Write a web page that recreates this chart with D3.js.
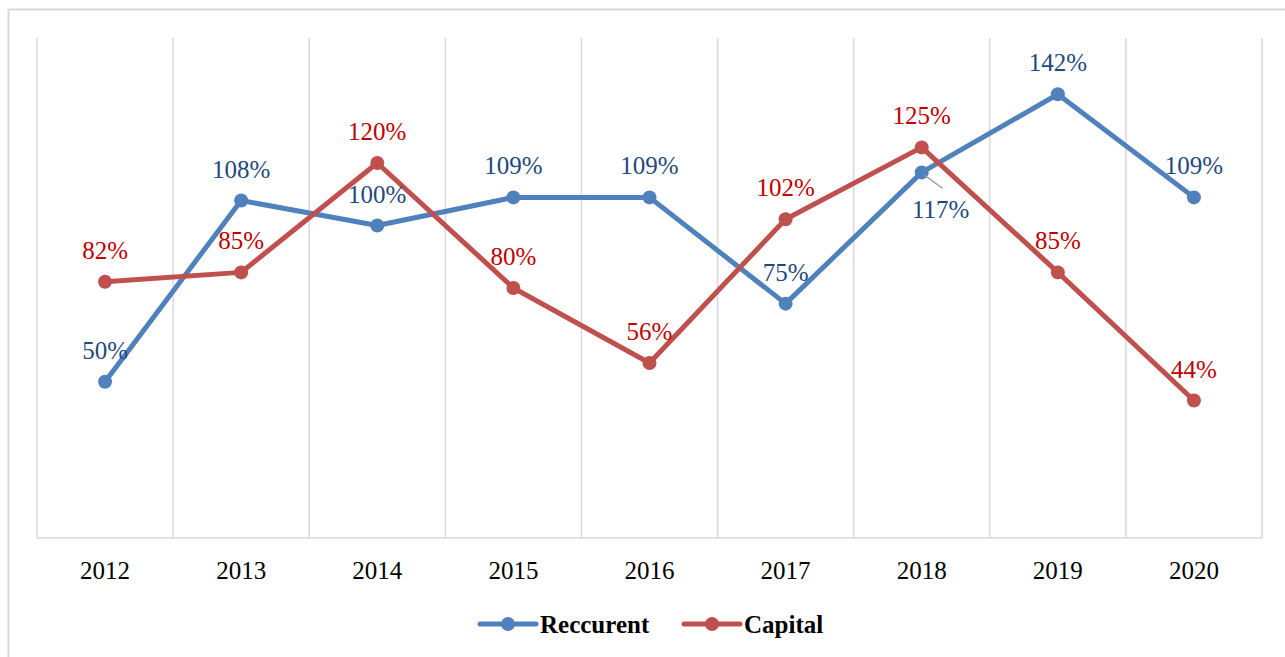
<!DOCTYPE html>
<html lang="en">
<head>
  <meta charset="UTF-8">
  <title>Reccurent vs Capital</title>
  <script src="https://d3js.org/d3.v7.min.js"></script>
  <style>
    body, html {
      margin: 0;
      padding: 0;
      background: #fff;
    }
    svg { display: block; }
    .grid line { stroke: #d9d9d9; stroke-width: 1.5px; }
    .tick-label { font-family: "Liberation Serif", "Times New Roman", serif; font-size: 25px; fill: #000; }
    .data-label { font-family: "Liberation Serif", "Times New Roman", serif; font-size: 25px; }
    .legend-text { font-family: "Liberation Serif", "Times New Roman", serif; font-size: 25px; font-weight: bold; fill: #000; }
  </style>
</head>
<body>
  <svg id="chart" width="1285" height="657"></svg>

  <script>
    // data
    const years = ["2012", "2013", "2014", "2015", "2016", "2017", "2018", "2019", "2020"];
    const reccurent = [50, 108, 100, 109, 109, 75, 117, 142, 109];
    const capital = [82, 85, 120, 80, 56, 102, 125, 85, 44];

    const series = [
      { name: "Reccurent", values: reccurent, color: "#4f81bd", labelColor: "#1f497d" },
      { name: "Capital", values: capital, color: "#c0504d", labelColor: "#c00000" }
    ];

    const svg = d3.select("#chart");
    const margin = { left: 37, right: 1262, top: 38, bottom: 538 };

    // outer frame (runs off the right/bottom edges like the original)
    svg.append("rect")
      .attr("x", 8.5).attr("y", 9.5)
      .attr("width", 1300).attr("height", 700)
      .attr("fill", "none")
      .attr("stroke", "#d9d9d9")
      .attr("stroke-width", 2);

    const x = d3.scaleBand()
      .domain(years)
      .range([margin.left, margin.right]);

    const y = d3.scaleLinear()
      .domain([0, 160])
      .range([margin.bottom, margin.top]);

    // vertical gridlines on category boundaries
    const bounds = years.map(d => x(d)).concat([margin.right]);
    const grid = svg.append("g").attr("class", "grid");
    grid.selectAll("line.v")
      .data(bounds)
      .enter().append("line")
      .attr("x1", d => d).attr("x2", d => d)
      .attr("y1", margin.top).attr("y2", margin.bottom);
    grid.append("line")
      .attr("x1", margin.left).attr("x2", margin.right)
      .attr("y1", margin.bottom).attr("y2", margin.bottom);

    // x tick labels
    svg.selectAll(".tick-label")
      .data(years)
      .enter().append("text")
      .attr("class", "tick-label")
      .attr("text-anchor", "middle")
      .attr("x", d => x(d) + x.bandwidth() / 2)
      .attr("y", 579)
      .text(d => d);

    const cx = (d, i) => x(years[i]) + x.bandwidth() / 2;
    const line = d3.line()
      .x((d, i) => cx(d, i))
      .y(d => y(d));

    series.forEach(s => {
      const g = svg.append("g");
      g.append("path")
        .datum(s.values)
        .attr("fill", "none")
        .attr("stroke", s.color)
        .attr("stroke-width", 5)
        .attr("stroke-linejoin", "round")
        .attr("d", line);
      g.selectAll("circle")
        .data(s.values)
        .enter().append("circle")
        .attr("cx", cx)
        .attr("cy", d => y(d))
        .attr("r", 7)
        .attr("fill", s.color);
    });

    // data labels (drawn after lines so they sit on top)
    series.forEach(s => {
      s.values.forEach((v, i) => {
        let lx = cx(v, i), ly = y(v) - 23;
        // 2018 reccurent label was pushed below-right with a leader line
        if (s.name === "Reccurent" && years[i] === "2018") {
          lx = cx(v, i) + 19;
          ly = y(v) + 46;
          svg.append("line")
            .attr("x1", cx(v, i) + 3).attr("y1", y(v) + 3)
            .attr("x2", cx(v, i) + 21).attr("y2", y(v) + 16)
            .attr("stroke", "#a6a6a6")
            .attr("stroke-width", 1.5);
        }
        svg.append("text")
          .attr("class", "data-label")
          .attr("text-anchor", "middle")
          .attr("x", lx)
          .attr("y", ly)
          .attr("fill", s.labelColor)
          .text(v + "%");
      });
    });

    // legend
    const legend = svg.append("g");
    const legendItems = [
      { s: series[0], x0: 480 },
      { s: series[1], x0: 684 }
    ];
    legendItems.forEach(it => {
      legend.append("line")
        .attr("x1", it.x0).attr("x2", it.x0 + 56)
        .attr("y1", 624).attr("y2", 624)
        .attr("stroke", it.s.color)
        .attr("stroke-width", 5)
        .attr("stroke-linecap", "round");
      legend.append("circle")
        .attr("cx", it.x0 + 28).attr("cy", 624)
        .attr("r", 7)
        .attr("fill", it.s.color);
      legend.append("text")
        .attr("class", "legend-text")
        .attr("x", it.x0 + 60)
        .attr("y", 633)
        .text(it.s.name);
    });
  </script>
</body>
</html>
